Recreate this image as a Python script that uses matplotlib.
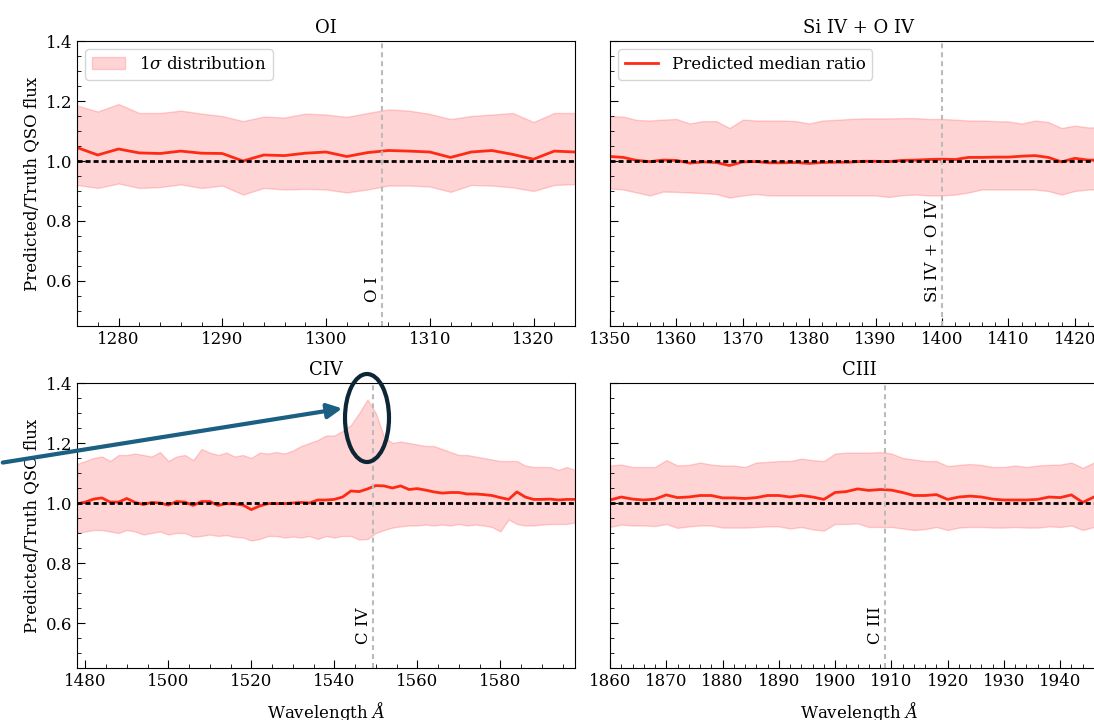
import matplotlib
matplotlib.use("Agg")
import matplotlib.pyplot as plt
from matplotlib.patches import Ellipse, FancyArrowPatch
from matplotlib.ticker import AutoMinorLocator
import numpy as np

# --- данные ---
wl_oi = [1276, 1278, 1280, 1282, 1284, 1286, 1288, 1290, 1292, 1294, 1296, 1298, 1300,
         1302, 1304, 1306, 1308, 1310, 1312, 1314, 1316, 1318, 1320, 1322, 1324]
med_oi = [1.045, 1.020, 1.040, 1.027, 1.025, 1.033, 1.026, 1.025, 1.000, 1.020, 1.018, 1.026, 1.030,
          1.015, 1.028, 1.035, 1.033, 1.030, 1.012, 1.030, 1.035, 1.022, 1.006, 1.033, 1.030]
hi_oi = [1.185, 1.165, 1.190, 1.160, 1.160, 1.168, 1.158, 1.150, 1.133, 1.148, 1.145, 1.158, 1.155,
         1.147, 1.160, 1.172, 1.168, 1.157, 1.140, 1.150, 1.155, 1.160, 1.130, 1.160, 1.160]
lo_oi = [0.920, 0.910, 0.925, 0.910, 0.913, 0.922, 0.910, 0.918, 0.888, 0.910, 0.905, 0.907, 0.905,
         0.895, 0.905, 0.918, 0.918, 0.915, 0.897, 0.920, 0.918, 0.912, 0.900, 0.920, 0.923]

wl_si = [1350, 1352, 1354, 1356, 1358, 1360, 1362, 1364, 1366, 1368, 1370, 1372, 1374,
         1376, 1378, 1380, 1382, 1384, 1386, 1388, 1390, 1392, 1394, 1396, 1398, 1400,
         1402, 1404, 1406, 1408, 1410, 1412, 1414, 1416, 1418, 1420, 1422, 1424]
med_si = [1.015, 1.012, 1.002, 0.998, 1.003, 1.002, 0.993, 0.997, 0.995, 0.985, 0.997, 0.998, 0.994,
          0.994, 0.995, 0.992, 0.995, 0.996, 0.996, 0.999, 0.999, 0.998, 1.002, 1.003, 1.005, 1.006,
          1.005, 1.012, 1.012, 1.013, 1.013, 1.016, 1.018, 1.012, 0.997, 1.009, 1.003, 1.003]
hi_si = [1.150, 1.148, 1.137, 1.135, 1.138, 1.140, 1.125, 1.133, 1.133, 1.110, 1.138, 1.135, 1.135,
         1.135, 1.133, 1.125, 1.135, 1.137, 1.140, 1.142, 1.142, 1.142, 1.143, 1.143, 1.140, 1.140,
         1.138, 1.135, 1.135, 1.133, 1.132, 1.125, 1.135, 1.130, 1.110, 1.118, 1.112, 1.112]
lo_si = [0.908, 0.905, 0.895, 0.885, 0.898, 0.897, 0.895, 0.893, 0.890, 0.878, 0.885, 0.890, 0.885,
         0.885, 0.885, 0.885, 0.885, 0.885, 0.885, 0.885, 0.885, 0.880, 0.886, 0.888, 0.885, 0.885,
         0.888, 0.895, 0.905, 0.905, 0.905, 0.905, 0.905, 0.900, 0.888, 0.900, 0.905, 0.905]

wl_civ = [1478, 1480, 1482, 1484, 1486, 1488, 1490, 1492, 1494, 1496, 1498, 1500, 1502, 1504,
          1506, 1508, 1510, 1512, 1514, 1516, 1518, 1520, 1522, 1524, 1526, 1528, 1530, 1532,
          1534, 1536, 1538, 1540, 1542, 1544, 1546, 1548, 1550, 1552, 1554, 1556, 1558, 1560,
          1562, 1564, 1566, 1568, 1570, 1572, 1574, 1576, 1578, 1580, 1582, 1584, 1586, 1588,
          1590, 1592, 1594, 1596, 1598]
med_civ = [0.997, 1.003, 1.013, 1.017, 1.003, 1.003, 1.015, 1.002, 0.995, 1.002, 1.000, 0.993, 1.005, 1.003,
           0.992, 1.005, 1.005, 0.992, 0.998, 0.997, 0.993, 0.978, 0.990, 0.998, 0.998, 0.998, 1.000, 1.002,
           1.000, 1.010, 1.010, 1.012, 1.020, 1.040, 1.038, 1.047, 1.058, 1.057, 1.050, 1.057, 1.045, 1.048,
           1.043, 1.037, 1.033, 1.035, 1.035, 1.030, 1.030, 1.028, 1.025, 1.018, 1.012, 1.037, 1.020, 1.012,
           1.012, 1.013, 1.010, 1.012, 1.012]
hi_civ = [1.130, 1.140, 1.150, 1.155, 1.140, 1.160, 1.160, 1.165, 1.160, 1.155, 1.170, 1.140, 1.155, 1.160,
          1.143, 1.180, 1.168, 1.160, 1.168, 1.155, 1.160, 1.150, 1.168, 1.165, 1.170, 1.165, 1.175, 1.190,
          1.200, 1.210, 1.225, 1.225, 1.240, 1.260, 1.300, 1.345, 1.300, 1.220, 1.200, 1.205, 1.200, 1.195,
          1.190, 1.190, 1.180, 1.170, 1.160, 1.160, 1.155, 1.150, 1.145, 1.140, 1.140, 1.140, 1.125, 1.120,
          1.120, 1.120, 1.110, 1.120, 1.110]
lo_civ = [0.900, 0.905, 0.910, 0.910, 0.905, 0.900, 0.910, 0.905, 0.895, 0.900, 0.905, 0.895, 0.900, 0.900,
          0.888, 0.890, 0.895, 0.890, 0.893, 0.887, 0.885, 0.875, 0.880, 0.890, 0.890, 0.885, 0.888, 0.885,
          0.890, 0.880, 0.890, 0.885, 0.890, 0.890, 0.878, 0.880, 0.900, 0.910, 0.918, 0.922, 0.925, 0.925,
          0.928, 0.925, 0.928, 0.925, 0.930, 0.925, 0.928, 0.925, 0.920, 0.905, 0.945, 0.930, 0.925, 0.925,
          0.928, 0.930, 0.930, 0.930, 0.935]

wl_ciii = [1860, 1862, 1864, 1866, 1868, 1870, 1872, 1874, 1876, 1878, 1880, 1882, 1884, 1886, 1888,
           1890, 1892, 1894, 1896, 1898, 1900, 1902, 1904, 1906, 1908, 1910, 1912, 1914, 1916, 1918,
           1920, 1922, 1924, 1926, 1928, 1930, 1932, 1934, 1936, 1938, 1940, 1942, 1944, 1946, 1948]
med_ciii = [1.010, 1.020, 1.013, 1.010, 1.013, 1.027, 1.018, 1.020, 1.025, 1.025, 1.017, 1.017, 1.015, 1.018, 1.025,
            1.025, 1.020, 1.025, 1.020, 1.012, 1.035, 1.038, 1.047, 1.042, 1.045, 1.043, 1.035, 1.025, 1.025, 1.028,
            1.012, 1.020, 1.023, 1.020, 1.013, 1.010, 1.010, 1.010, 1.012, 1.020, 1.018, 1.027, 1.002, 1.020, 1.030]
hi_ciii = [1.125, 1.128, 1.120, 1.120, 1.120, 1.143, 1.125, 1.127, 1.135, 1.128, 1.125, 1.125, 1.120, 1.135, 1.137,
           1.140, 1.140, 1.148, 1.143, 1.140, 1.165, 1.168, 1.168, 1.168, 1.170, 1.165, 1.150, 1.145, 1.140, 1.140,
           1.123, 1.127, 1.130, 1.127, 1.120, 1.120, 1.125, 1.120, 1.125, 1.127, 1.128, 1.135, 1.117, 1.135, 1.140]
lo_ciii = [0.920, 0.928, 0.925, 0.925, 0.923, 0.930, 0.917, 0.922, 0.925, 0.925, 0.918, 0.918, 0.918, 0.920, 0.922,
           0.922, 0.915, 0.920, 0.912, 0.908, 0.930, 0.930, 0.932, 0.920, 0.920, 0.920, 0.915, 0.910, 0.913, 0.920,
           0.910, 0.918, 0.920, 0.920, 0.918, 0.918, 0.920, 0.918, 0.918, 0.922, 0.920, 0.925, 0.910, 0.920, 0.930]

titles = ['OI', 'Si IV + O IV', 'CIV', 'CIII']
line_names = ['O I', 'Si IV + O IV', 'C IV', 'C III']
line_wl = [1305.4, 1400.0, 1549.4, 1908.9]
xlims = [(1276, 1324), (1350, 1425), (1478, 1598), (1860, 1948.5)]

plt.rcParams['font.family'] = 'DejaVu Serif'
plt.rcParams['mathtext.fontset'] = 'dejavuserif'

fig = plt.figure(figsize=(10.94, 7.2), dpi=100)
W, H = 1094.0, 720.0
# положения осей в пикселях (левый край, верхний край)
boxes = [(77, 41), (610, 41), (77, 383), (610, 383)]
axes = []
for (l, t) in boxes:
    ax = fig.add_axes([l / W, 1 - (t + 285) / H, 498 / W, 285 / H])
    axes.append(ax)

data = [(wl_oi, med_oi, lo_oi, hi_oi), (wl_si, med_si, lo_si, hi_si),
        (wl_civ, med_civ, lo_civ, hi_civ), (wl_ciii, med_ciii, lo_ciii, hi_ciii)]

for i, ax in enumerate(axes):
    wl, med, lo, hi = data[i]
    ax.fill_between(wl, lo, hi, color='red', alpha=0.17, lw=1, label=r'1$\sigma$ distribution')
    ax.plot(wl, med, color='#ff2a14', lw=2, label='Predicted median ratio')
    ax.axhline(1.0, color='k', lw=2, ls=(0, (1.8, 1.1)))
    ax.axvline(line_wl[i], color='#bbbbbb', lw=1.5, ls=(0, (2.4, 1.9)))
    ax.text(line_wl[i] - 0.3 * (xlims[i][1] - xlims[i][0]) / 100, 0.53, line_names[i],
            rotation=90, ha='right', va='bottom', fontsize=12)
    ax.set_xlim(*xlims[i])
    ax.set_ylim(0.45, 1.4)
    ax.set_yticks([0.6, 0.8, 1.0, 1.2, 1.4])
    ax.xaxis.set_minor_locator(AutoMinorLocator())
    ax.yaxis.set_minor_locator(AutoMinorLocator())
    ax.tick_params(which='both', direction='in', top=False, right=False, labelsize=12)
    ax.tick_params(which='major', length=6)
    ax.tick_params(which='minor', length=3)
    ax.set_title(titles[i], fontsize=13)
    if i % 2 == 0:
        ax.set_ylabel('Predicted/Truth QSO flux', fontsize=12)
    else:
        ax.tick_params(labelleft=False)
    if i >= 2:
        ax.set_xlabel(r'Wavelength $\AA$', fontsize=12, labelpad=7)

# легенды: полоса слева, медиана справа
h0, l0 = axes[0].get_legend_handles_labels()
axes[0].legend([h0[0]], [l0[0]], loc='upper left', fontsize=12, framealpha=0.8)
h1, l1 = axes[1].get_legend_handles_labels()
axes[1].legend([h1[1]], [l1[1]], loc='upper left', fontsize=12, framealpha=0.8)

# аннотация: стрелка и эллипс вокруг пика C IV
ell = Ellipse((367 / W, 1 - 418 / H), 44 / W, 88 / H, transform=fig.transFigure,
              fill=False, edgecolor='#0c2636', lw=3)
fig.add_artist(ell)
arr = FancyArrowPatch((0 / W, 1 - 463 / H), (345 / W, 1 - 408 / H), transform=fig.transFigure,
                      arrowstyle='-|>', mutation_scale=22, color='#1b5f82', lw=3)
fig.add_artist(arr)

fig.savefig('out.png', dpi=100)
